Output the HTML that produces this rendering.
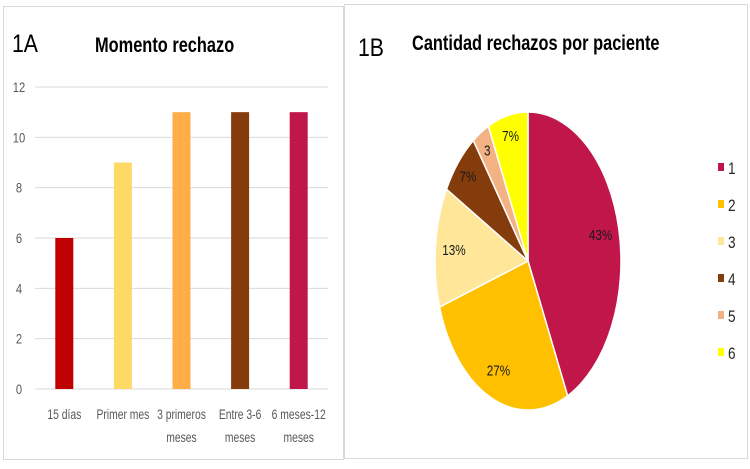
<!DOCTYPE html>
<html><head><meta charset="utf-8"><style>
body{margin:0;background:#fff;}
svg{display:block;font-family:"Liberation Sans",sans-serif;}
</style></head><body>
<svg id="s" width="750" height="469" viewBox="0 0 750 469" xmlns="http://www.w3.org/2000/svg">
<rect x="3.5" y="6.5" width="340" height="453" fill="#fff" stroke="#d9d9d9"/>
<rect x="344.5" y="4.5" width="403" height="454" fill="#fff" stroke="#d9d9d9"/>
<text x="12" y="52" font-size="25" transform="translate(12 0) scale(0.85 1) translate(-12 0)">1A</text>
<text x="95" y="52" font-size="21" font-weight="bold" transform="translate(95 0) scale(0.78 1) translate(-95 0)">Momento rechazo</text>
<text x="358" y="56" font-size="25" transform="translate(358 0) scale(0.85 1) translate(-358 0)">1B</text>
<text x="412" y="50" font-size="21" font-weight="bold" transform="translate(412 0) scale(0.78 1) translate(-412 0)">Cantidad rechazos por paciente</text>
<g id="bars"></g>
<g id="pie"></g>
<g id="legend"></g>
</svg>
<script>
const categories=[["15 días"],["Primer mes"],["3 primeros","meses"],["Entre 3-6","meses"],["6 meses-12","meses"]];
const barValues=[6,9,11,11,11];
const barColors=["#c00000","#ffd966","#ffad47","#843c0c","#c0164a"];
const yTicks=[0,2,4,6,8,10,12];
const pieValues=[43,27,13,7,3,7];
const pieLabels=["43%","27%","13%","7%","3","7%"];
const legendLabels=["1","2","3","4","5","6"];
const pieColors=["#c0164a","#ffc000","#ffe699","#843c0c","#f4b183","#ffff00"];
const NS="http://www.w3.org/2000/svg";
function mk(t,a,p){const e=document.createElementNS(NS,t);for(const k in a)e.setAttribute(k,a[k]);p.appendChild(e);return e;}
const y0=389,y12=87,px0=35,px1=328;
const yS=v=>y0-(v/12)*(y0-y12);
const band=(px1-px0)/categories.length;
const xC=i=>px0+band*(i+0.5);
const gb=document.getElementById('bars');
yTicks.forEach(t=>{
 const l=mk('line',{x1:px0,x2:px1,y1:yS(t),y2:yS(t),stroke:'#d9d9d9','stroke-width':1},gb);
 
 
 const tx=mk('text',{x:19,y:yS(t)+5,'font-size':14,fill:'#595959','text-anchor':'middle',transform:`translate(19 0) scale(0.8 1) translate(-19 0)`},gb);
 tx.textContent=t;
 
 
});
barValues.forEach((v,i)=>{
 const r=mk('rect',{x:xC(i)-9,y:yS(v),width:18,height:yS(0)-yS(v),fill:barColors[i]},gb);
 
 
 categories[i].forEach((line,j)=>{
  const c=xC(i);
  const tx=mk('text',{x:c,y:419+j*23,'font-size':14,fill:'#595959','text-anchor':'middle',transform:`translate(${c} 0) scale(0.74 1) translate(${-c} 0)`},gb);
  tx.textContent=line;
  
  
 });
});
const gp=document.getElementById('pie');
const cx=528,cy=261,rx=93,ry=149;
const tot=pieValues.reduce((a,b)=>a+b,0);
const pt=(a,r)=>[cx+rx*r*Math.sin(a),cy-ry*r*Math.cos(a)];
let acc=0;
pieValues.forEach((v,i)=>{
 const a0=acc/tot*2*Math.PI;acc+=v;const a1=acc/tot*2*Math.PI;
 const p0=pt(a0,1),p1=pt(a1,1);
 const d=`M${cx},${cy}L${p0[0]},${p0[1]}A${rx},${ry} 0 ${(a1-a0)>Math.PI?1:0} 1 ${p1[0]},${p1[1]}Z`;
 const s=mk('path',{d:d,fill:pieColors[i],stroke:'#fff','stroke-width':1.5},gp);
 
 
 const am=(a0+a1)/2;const rr=v<10?0.86:0.8;const lp=pt(am,rr);
 const tx=mk('text',{x:lp[0],y:lp[1]+5,'font-size':15,fill:'#1a1a1a','text-anchor':'middle',transform:`translate(${lp[0]} 0) scale(0.78 1) translate(${-lp[0]} 0)`},gp);
 tx.textContent=pieLabels[i];
 
 
});
const gl=document.getElementById('legend');
legendLabels.forEach((l,i)=>{
 const y=167+i*37;
 const r=mk('rect',{x:718,y:y-4,width:6,height:8,fill:pieColors[i]},gl);
 
 
 const tx=mk('text',{x:728,y:y+7,'font-size':17,fill:'#262626',transform:`translate(728 0) scale(0.8 1) translate(-728 0)`},gl);
 tx.textContent=l;
 
 
});
</script>
</body></html>
